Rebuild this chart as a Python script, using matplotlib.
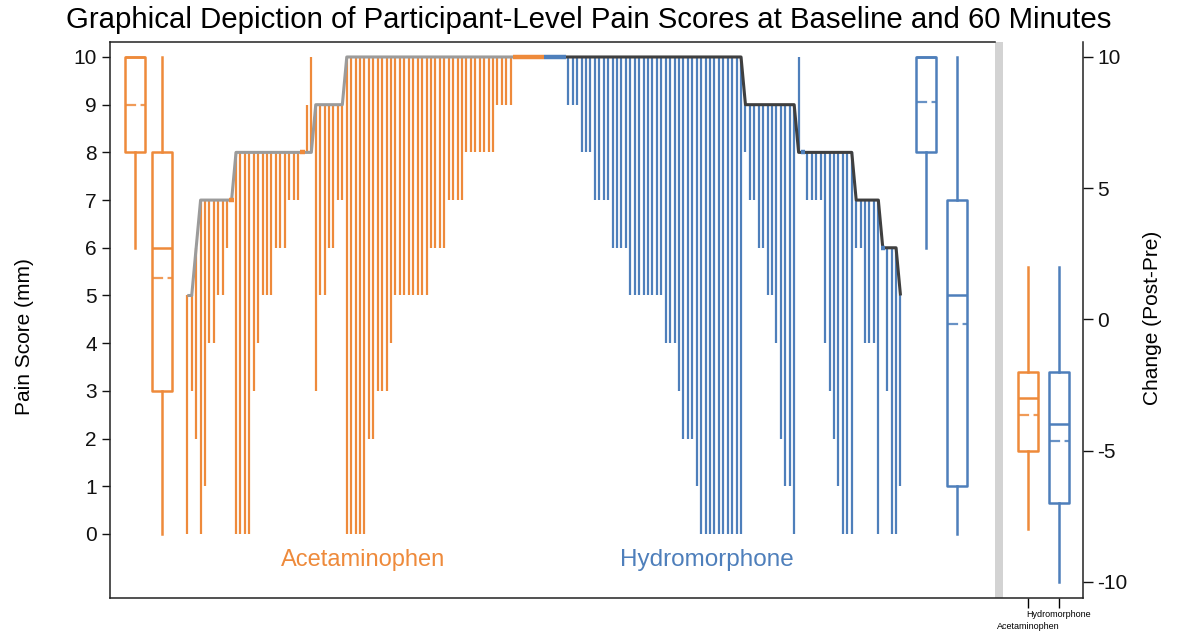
import numpy as np
import matplotlib
matplotlib.use('Agg')
import matplotlib.pyplot as plt

plt.rcParams['font.family'] = ['Liberation Sans', 'DejaVu Sans']

ORANGE = '#EE8A3B'
BLUE = '#4E7FBB'
ACET_LINE = '#9B9B9B'
HYDRO_LINE = '#3F3F3F'

# ---- participant-level data (sorted as in the chart) ----
acet_base = ([5, 5, 6] + [7] * 8 + [8] * 18 + [9] * 7 + [10] * 38 + [10] * 7)
acet_post = ([0, 3, 2]
             + [0, 1, 4, 4, 5, 5, 6, 7]
             + [0, 0, 0, 0, 3, 4, 5, 5, 5, 6, 6, 6, 7, 7, 7, 8, 9, 10]
             + [3, 5, 5, 6, 6, 7, 7]
             + [0] * 5 + [2] * 2 + [3] * 3 + [4] + [5] * 8 + [6] * 4 + [7] * 4 + [8] * 7 + [9] * 4
             + [10] * 7)

hydro_base = ([10] * 5 + [10] * 40 + [9] * 12 + [8] * 13 + [7] * 6 + [6] * 4 + [5])
hydro_post = ([10] * 5
              + [9] * 3 + [8] * 3 + [7] * 4 + [6] * 4 + [5] * 8 + [4] * 3 + [3] + [2] * 3 + [1] + [0] * 10
              + [8, 7, 7, 6, 6, 5, 5, 4, 2, 1, 1, 0]
              + [10, 8, 7, 7, 7, 7, 4, 3, 2, 1, 0, 0, 0]
              + [6, 6, 4, 4, 4, 0]
              + [6, 3, 0, 0]
              + [1])

# ---- box summaries: whislo, q1, median, q3, whishi, mean ----
acet_base_box = [6, 8, 10, 10, 10, 9.0]
acet_post_box = [0, 3, 6, 8, 10, 5.37]
hydro_base_box = [6, 8, 10, 10, 10, 9.05]
hydro_post_box = [0, 1, 5, 7, 10, 4.41]
acet_change_box = [-8, -5, -3, -2, 2, -3.63]
hydro_change_box = [-10, -7, -4, -2, 2, -4.64]

group_labels = ['Acetaminophen', 'Hydromorphone']
pain_ticks = list(range(0, 11))
change_ticks = [-10, -5, 0, 5, 10]

# ---- layout (x in participant slots) ----
W, H = 1178, 637
fig = plt.figure(figsize=(W / 100, H / 100), dpi=100)
ax = fig.add_axes([110 / W, 39 / H, 973 / W, 556 / H])
ax.set_xlim(-17.45, 202.2)
ax.set_ylim(-1.342, 10.314)

n_a, n_h = len(acet_base), len(hydro_base)
xa = np.arange(n_a)
xh = np.arange(n_a, n_a + n_h)


def draw_group(x, base, post, color, line_color):
    base = np.asarray(base, float)
    post = np.asarray(post, float)
    nz = base != post
    ax.vlines(x[nz], np.minimum(base, post)[nz], np.maximum(base, post)[nz],
              colors=color, lw=1.6, zorder=2, capstyle='butt')
    ax.plot(x, base, color=line_color, lw=2.2, zorder=3, solid_capstyle='butt')
    z = ~nz
    ax.hlines(base[z], x[z] - 0.5, x[z] + 0.5, colors=color, lw=3.2,
              zorder=4, capstyle='butt')


draw_group(xa, acet_base, acet_post, ORANGE, ACET_LINE)
draw_group(xh, hydro_base, hydro_post, BLUE, HYDRO_LINE)


def draw_box(axis, pos, s, color, width=4.5):
    stats = [dict(whislo=s[0], q1=s[1], med=s[2], q3=s[3], whishi=s[4], mean=s[5], fliers=[])]
    axis.bxp(stats, positions=[pos], widths=width, showmeans=True, meanline=True,
             showcaps=False, showfliers=False, patch_artist=True, manage_ticks=False,
             boxprops=dict(facecolor='white', edgecolor=color, lw=1.8, joinstyle='round'),
             whiskerprops=dict(color=color, lw=1.8),
             medianprops=dict(color=color, lw=1.8),
             meanprops=dict(color=color, lw=1.6, linestyle=(0, (5, 2)), alpha=0.85),
             zorder=5)


draw_box(ax, -11.8, acet_base_box, ORANGE)
draw_box(ax, -5.8, acet_post_box, ORANGE)
draw_box(ax, 166.7, hydro_base_box, BLUE)
draw_box(ax, 173.7, hydro_post_box, BLUE)

# separator bar
ax.axvspan(182.3, 184.1, color='#D3D3D3', lw=0, zorder=1)

# change axis
ax2 = ax.twinx()
ax2.set_ylim(-10.61, 10.571)
draw_box(ax2, 189.8, acet_change_box, ORANGE)
draw_box(ax2, 196.7, hydro_change_box, BLUE)

# spines
ax.spines['right'].set_visible(False)
ax.spines['top'].set_bounds(-17.45, 182.3)
for s in ['left', 'top', 'bottom']:
    ax2.spines[s].set_visible(False)
for a in (ax, ax2):
    for sp in a.spines.values():
        sp.set_linewidth(1.1)
        sp.set_color('#222222')

ax.set_yticks(pain_ticks)
ax.set_yticklabels([str(t) for t in pain_ticks])
ax.tick_params(axis='y', direction='out', length=6, width=1, labelsize=15, colors='#111111')
ax2.set_yticks(change_ticks)
ax2.set_yticklabels([str(t) for t in change_ticks])
ax2.tick_params(axis='y', direction='out', length=7, width=1, labelsize=15, colors='#111111')

# staggered x tick labels for the change boxes
change_pos = [189.8, 196.7]
ax.set_xticks(change_pos)
ax.set_xticklabels(['', ''])
ax.tick_params(axis='x', direction='out', length=7, width=1)
xt = ax.get_xaxis_transform()
ax.text(change_pos[0], -0.0505, group_labels[0], transform=xt, ha='center', va='center',
        fontsize=6.5, clip_on=False)
ax.text(change_pos[1], -0.0300, group_labels[1], transform=xt, ha='center', va='center',
        fontsize=6.5, clip_on=False)

ax.set_ylabel('Pain Score (mm)', fontsize=15)
ax.yaxis.set_label_coords(-0.078, 0.47)
ax2.set_ylabel('Change (Post-Pre)', fontsize=15)
ax2.yaxis.set_label_coords(1.0617, 0.504)

ax.text(39.6, -0.55, group_labels[0], color=ORANGE, ha='center', va='center', fontsize=17)
ax.text(117.3, -0.55, group_labels[1], color=BLUE, ha='center', va='center', fontsize=17.5)

fig.text(0.5, 1 - 20 / H,
         'Graphical Depiction of Participant-Level Pain Scores at Baseline and 60 Minutes',
         ha='center', va='center', fontsize=21.2)

fig.savefig('out.png', dpi=100)
